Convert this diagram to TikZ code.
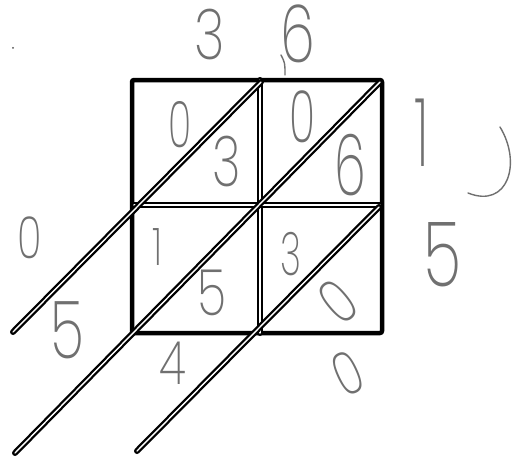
\documentclass[tikz,border=0pt]{standalone}
\usepackage{fontspec}
\newfontfamily\hand{Poppins ExtraLight}
\definecolor{pencil}{HTML}{707070}
\begin{document}
\begin{tikzpicture}[x=1pt,y=1pt,
  digit/.style={font=\hand\fontsize{#1}{#1}\selectfont, text=pencil, inner sep=0pt},
  outerbox/.style={line width=4.5pt, line join=round, rounded corners=2pt},
  dline/.style={draw=black, line width=2.3pt, double=white, double distance=1.4pt, line cap=round},
  pencilstroke/.style={draw=pencil, line width=1.4pt, line cap=round}
]
\useasboundingbox (0,0) rectangle (516,459);
\fill[white] (0,0) rectangle (516,459);

% grid
\draw[outerbox] (132,379) rectangle (382,126);
\draw[dline] (260,379) -- (260,126);
\draw[dline] (134,254) -- (380,254);
% diagonals
\draw[dline] (261,377) -- (13,127);
\draw[dline] (380,377) -- (15,6);
\draw[dline] (379,252) -- (137,8);

% top factors
\node[digit=70] (t3) at (210,424) {\scalebox{0.75}[1]{3}};
\node[digit=80] (t6) at (298,425) {\scalebox{0.7}[1]{6}};
\draw[pencilstroke] (281,404) .. controls (285,396) .. (285,384);

% cells
\node[digit=64] (c1) at (180,334) {\scalebox{0.6}[1]{0}};
\node[digit=70] (c2) at (227,297) {\scalebox{0.7}[1]{3}};
\node[digit=72] (c3) at (302,342) {\scalebox{0.6}[1]{0}};
\node[digit=85] (c4) at (350,294) {\scalebox{0.6}[1]{6}};
\node[digit=52] (c5) at (158,212) {\scalebox{0.75}[1]{1}};
\node[digit=64] (c6) at (212,166) {\scalebox{0.75}[1]{5}};
\node[digit=60] (c7) at (291,205) {\scalebox{0.6}[1]{3}};
\node[digit=62, rotate=40] (c8) at (338,157) {\scalebox{0.75}[1]{0}};

% right side
\node[digit=95] (r1) at (422,326) {\scalebox{0.6}[1]{1}};
\draw[pencilstroke] (500,332) .. controls (522,296) and (508,250) .. (468,266);
\node[digit=90] (r5) at (443,204) {\scalebox{0.7}[1]{5}};

% left side
\node[digit=58] (l0) at (30,221) {\scalebox{0.7}[1]{0}};
\node[digit=80] (l5) at (67,129) {\scalebox{0.7}[1]{5}};

% bottom
\node[digit=60] (b4) at (173,96) {\scalebox{0.75}[1]{4}};
\node[digit=60, rotate=25] (b0) at (348,86) {\scalebox{0.75}[1]{0}};

% speck
\fill[pencil!70!black] (13,411) circle (1pt);
\end{tikzpicture}
\end{document}
